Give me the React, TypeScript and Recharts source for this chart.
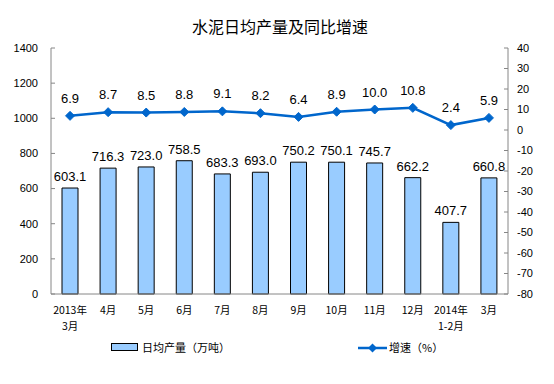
import React from "react";
import {
  ComposedChart,
  Bar,
  Line,
  XAxis,
  YAxis,
  LabelList,
} from "recharts";

const months = [
  "2013年\n3月",
  "4月",
  "5月",
  "6月",
  "7月",
  "8月",
  "9月",
  "10月",
  "11月",
  "12月",
  "2014年\n1-2月",
  "3月",
];
const output = [603.1, 716.3, 723.0, 758.5, 683.3, 693.0, 750.2, 750.1, 745.7, 662.2, 407.7, 660.8];
const growth = [6.9, 8.7, 8.5, 8.8, 9.1, 8.2, 6.4, 8.9, 10.0, 10.8, 2.4, 5.9];
const leftTicks = [0, 200, 400, 600, 800, 1000, 1200, 1400];
const rightTicks = [-80, -70, -60, -50, -40, -30, -20, -10, 0, 10, 20, 30, 40];
const boundaryTicks = [0, 1, 2, 3, 4, 5, 6, 7, 8, 9, 10, 11, 12];

const title = "水泥日均产量及同比增速";
const barName = "日均产量（万吨）";
const lineName = "增速（%）";

const data = months.map((m, i) => ({
  month: m,
  pos: i + 0.5,
  output: output[i],
  growth: growth[i],
}));

const FONT = '"Liberation Sans", Arial, "Noto Sans CJK SC", sans-serif';
const CJK = '"Noto Sans CJK SC", "Liberation Sans", sans-serif';
const AXIS = "#868686";
const BAR = "#99CCFF";
const LINE = "#0066CC";

const XTick = (props: any) => {
  const { x, y, payload } = props;
  const lines = String(payload.value).split("\n");
  return (
    <g>
      {lines.map((l, k) => (
        <text
          key={k}
          x={x}
          y={y + 8 + k * 15.5}
          textAnchor="middle"
          fontSize={10.5}
          fontFamily={CJK}
          fill="#000"
        >
          {l}
        </text>
      ))}
    </g>
  );
};

const Diamond = (props: any) => {
  const { cx, cy } = props;
  if (cx == null || cy == null) return null;
  const r = 4.5;
  return (
    <polygon
      points={`${cx},${cy - r} ${cx + r},${cy} ${cx},${cy + r} ${cx - r},${cy}`}
      fill={LINE}
      stroke={LINE}
    />
  );
};

export default function App() {
  return (
    <div
      style={{
        position: "absolute",
        left: 0,
        top: 0,
        width: 554,
        height: 384,
        background: "#fff",
        overflow: "hidden",
      }}
    >
      <div
        style={{
          position: "absolute",
          left: 0,
          width: 560,
          top: 15,
          textAlign: "center",
          fontFamily: CJK,
          fontSize: 16,
          color: "#000",
          lineHeight: "22px",
        }}
      >
        {title}
      </div>
      <ComposedChart
        width={554}
        height={384}
        data={data}
        margin={{ top: 48, right: 0, bottom: 0, left: 0 }}
        style={{ position: "absolute", left: 0, top: 0 }}
      >
        <XAxis
          xAxisId="b"
          type="number"
          dataKey="pos"
          domain={[0, 12]}
          ticks={boundaryTicks}
          allowDataOverflow
          height={0}
          axisLine={false}
          tick={false}
          tickSize={-4}
          tickLine={{ stroke: AXIS }}
        />
        <XAxis
          xAxisId="c"
          dataKey="month"
          height={90}
          interval={0}
          axisLine={{ stroke: AXIS, strokeWidth: 1 }}
          tickLine={false}
          tickSize={0}
          tickMargin={12}
          tick={<XTick />}
        />
        <YAxis
          yAxisId="l"
          orientation="left"
          width={51}
          domain={[0, 1400]}
          ticks={leftTicks}
          axisLine={{ stroke: AXIS }}
          tickLine={{ stroke: AXIS }}
          tickSize={-4}
          tickMargin={17}
          tick={{ fontSize: 11, fill: "#000", fontFamily: FONT }}
        />
        <YAxis
          yAxisId="r"
          orientation="right"
          width={46}
          domain={[-80, 40]}
          ticks={rightTicks}
          axisLine={{ stroke: AXIS }}
          tickLine={{ stroke: AXIS }}
          tickSize={-4}
          tickMargin={13}
          tick={{ fontSize: 11, fill: "#000", fontFamily: FONT, textAnchor: "start" }}
        />
        <Bar
          xAxisId="c"
          yAxisId="l"
          dataKey="output"
          name={barName}
          fill={BAR}
          stroke="#000"
          strokeWidth={1}
          barSize={16}
          isAnimationActive={false}
        >
          <LabelList
            dataKey="output"
            position="top"
            offset={7}
            formatter={(v: any) => Number(v).toFixed(1)}
            style={{ fontSize: 13, fill: "#000", fontFamily: FONT }}
          />
        </Bar>
        <Line
          xAxisId="c"
          yAxisId="r"
          type="linear"
          dataKey="growth"
          name={lineName}
          stroke={LINE}
          strokeWidth={2.5}
          dot={<Diamond />}
          activeDot={false}
          isAnimationActive={false}
        >
          <LabelList
            dataKey="growth"
            position="top"
            offset={13}
            formatter={(v: any) => Number(v).toFixed(1)}
            style={{ fontSize: 13, fill: "#000", fontFamily: FONT }}
          />
        </Line>
      </ComposedChart>
      <svg
        width={554}
        height={30}
        style={{ position: "absolute", left: 0, top: 333 }}
      >
        <rect x={111.5} y={10.5} width={26} height={7} fill={BAR} stroke="#000" strokeWidth={1} />
        <text x={142} y={14} dominantBaseline="central" fontSize={11} fontFamily={CJK} fill="#000">
          {barName}
        </text>
        <line x1={358} y1={15} x2={387} y2={15} stroke={LINE} strokeWidth={2.5} />
        <polygon points="372.5,10.5 377,15 372.5,19.5 368,15" fill={LINE} />
        <text x={389} y={14} dominantBaseline="central" fontSize={11} fontFamily={CJK} fill="#000">
          {lineName}
        </text>
      </svg>
    </div>
  );
}
